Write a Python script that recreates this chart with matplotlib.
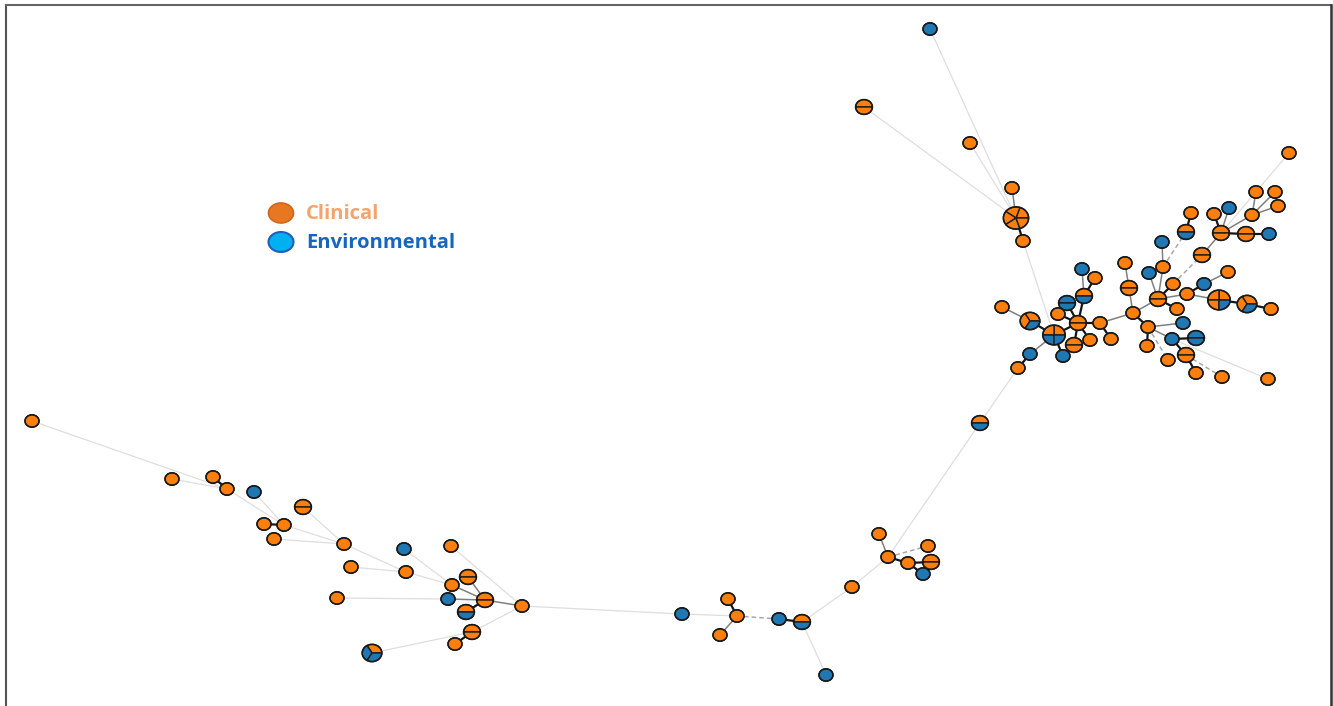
import numpy as np
import matplotlib.pyplot as plt
from matplotlib.patches import Polygon, Ellipse
from matplotlib.lines import Line2D

# node layout (pixel space), isolate counts per node
names = ["A1", "A2", "A3", "A4", "A5", "A6",
         "C1", "C2", "C3", "C4", "C5", "C6", "C7", "C8", "C9", "C10",
         "C11", "C12", "C13", "C14", "C15", "C16", "C17", "C18", "C19",
         "E1", "E2", "E3", "E4", "E5", "E6", "E7", "E8", "E9", "E10",
         "E11", "E12", "E13", "E14", "E15", "E16", "E17", "E18", "E19", "E20",
         "E21", "E22", "E23", "E24", "E25", "E26", "E27", "E28", "E29", "E30",
         "E31", "E32", "E33", "E34", "E35",
         "D1", "F1", "F2", "F3", "F4", "F5", "F6", "F7",
         "G1", "G2", "G3", "G4", "G5", "G6", "G7", "H",
         "L1", "L2", "L3", "L4", "L5", "L6", "L7", "L8", "L9", "L10", "L11",
         "M1", "M2", "M3", "M4", "M5", "M6", "M7", "M8", "M9", "M10", "M11", "M12"]
xs = [930, 864, 970, 1012, 1016, 1023,
      1002, 1030, 1054, 1030, 1018, 1063, 1058, 1067, 1084, 1082,
      1095, 1078, 1074, 1090, 1100, 1111, 1125, 1129, 1133,
      1289, 1256, 1275, 1278, 1229, 1214, 1252, 1191, 1186, 1221,
      1246, 1269, 1162, 1202, 1163, 1149, 1228, 1173, 1204, 1158,
      1187, 1219, 1247, 1271, 1177, 1148, 1183, 1172, 1196, 1147,
      1186, 1168, 1196, 1222, 1268,
      980, 879, 888, 908, 928, 931, 923, 852,
      682, 728, 737, 720, 779, 802, 826, 522,
      32, 172, 213, 227, 254, 303, 264, 284, 274, 344, 351,
      404, 451, 406, 468, 452, 337, 448, 485, 466, 472, 455, 372]
ys = [29, 107, 143, 188, 218, 241,
      307, 321, 335, 354, 368, 356, 314, 303, 296, 269,
      278, 323, 345, 340, 323, 339, 263, 288, 313,
      153, 192, 192, 206, 208, 214, 215, 213, 232, 233,
      234, 234, 242, 255, 267, 273, 272, 284, 284, 299,
      294, 300, 304, 309, 309, 327, 323, 339, 338, 346,
      355, 360, 373, 377, 379,
      423, 534, 557, 563, 546, 562, 574, 587,
      614, 599, 616, 635, 619, 622, 675, 606,
      421, 479, 477, 489, 492, 507, 524, 525, 539, 544, 567,
      549, 546, 572, 577, 585, 598, 599, 600, 612, 632, 644, 653]
clinical = [0, 2, 1, 1, 5, 1,
            1, 2, 2, 0, 1, 0, 1, 0, 1, 0,
            1, 2, 2, 1, 1, 1, 1, 2, 1,
            1, 1, 1, 1, 0, 1, 1, 1, 1, 2,
            2, 0, 0, 2, 1, 0, 1, 1, 0, 2,
            1, 3, 2, 1, 1, 1, 0, 0, 0, 1,
            2, 1, 1, 1, 1,
            1, 1, 1, 1, 1, 2, 0, 1,
            0, 1, 1, 1, 0, 1, 0, 1,
            1, 1, 1, 1, 0, 2, 1, 1, 1, 1, 1,
            0, 1, 1, 2, 1, 1, 0, 2, 1, 2, 1, 1]
environmental = [1, 0, 0, 0, 0, 0,
                 0, 1, 2, 1, 0, 1, 0, 2, 1, 1,
                 0, 0, 0, 0, 0, 0, 0, 0, 0,
                 0, 0, 0, 0, 1, 0, 0, 0, 1, 0,
                 0, 1, 1, 0, 0, 1, 0, 0, 1, 0,
                 0, 1, 1, 0, 0, 0, 1, 1, 2, 0,
                 0, 0, 0, 0, 0,
                 1, 0, 0, 0, 0, 0, 1, 0,
                 1, 0, 0, 0, 1, 1, 1, 0,
                 0, 0, 0, 0, 1, 0, 0, 0, 0, 0, 0,
                 1, 0, 0, 0, 0, 0, 1, 0, 1, 0, 0, 2]

# links: k = close (thick), g = medium, l = long (faint), d = dashed
links = [("A5", "A1", "l"), ("A5", "A2", "l"), ("A5", "A3", "l"), ("A4", "A5", "g"),
         ("A5", "A6", "k"), ("A6", "C3", "l"),
         ("C1", "C2", "g"), ("C2", "C3", "k"), ("C3", "C4", "g"), ("C4", "C5", "k"),
         ("C3", "C6", "k"), ("C3", "C12", "k"), ("C7", "C12", "k"), ("C8", "C12", "k"),
         ("C9", "C12", "k"), ("C9", "C10", "g"), ("C9", "C11", "k"), ("C12", "C13", "k"),
         ("C12", "C14", "k"), ("C12", "C15", "k"), ("C15", "C16", "k"), ("C15", "C19", "g"),
         ("C18", "C19", "g"), ("C17", "C18", "g"), ("C5", "D1", "l"),
         ("C19", "E20", "g"), ("E20", "E15", "g"), ("E15", "E13", "g"), ("E20", "E16", "g"),
         ("E20", "E18", "k"), ("E15", "E9", "d"), ("E9", "E8", "k"), ("E20", "E21", "g"),
         ("E21", "E19", "k"), ("E19", "E17", "g"), ("E21", "E22", "g"), ("E22", "E23", "k"),
         ("E23", "E24", "k"), ("E20", "E25", "k"), ("C19", "E26", "k"), ("E26", "E27", "g"),
         ("E26", "E30", "k"), ("E26", "E28", "g"), ("E28", "E29", "k"), ("E28", "E31", "k"),
         ("E31", "E33", "k"), ("E26", "E32", "d"), ("E31", "E34", "d"), ("E28", "E35", "l"),
         ("E18", "E14", "d"), ("E14", "E10", "g"), ("E10", "E6", "k"), ("E10", "E5", "g"),
         ("E10", "E7", "g"), ("E7", "E2", "g"), ("E7", "E3", "g"), ("E7", "E4", "g"),
         ("E10", "E11", "k"), ("E11", "E12", "k"), ("E10", "E1", "l"),
         ("D1", "F2", "l"), ("F1", "F2", "g"), ("F2", "F3", "k"), ("F2", "F4", "d"),
         ("F3", "F5", "k"), ("F3", "F6", "k"), ("F2", "F7", "l"), ("F7", "G6", "l"),
         ("G6", "G5", "k"), ("G6", "G7", "l"), ("G5", "G3", "d"), ("G3", "G2", "k"),
         ("G3", "G4", "g"), ("G3", "G1", "l"), ("G1", "H", "l"),
         ("H", "M8", "g"), ("H", "M2", "l"), ("H", "M10", "l"), ("M10", "M11", "k"),
         ("M10", "M12", "l"), ("M8", "M9", "k"), ("M8", "M7", "g"), ("M8", "M4", "g"),
         ("M8", "M5", "g"), ("M7", "M6", "l"), ("M5", "M3", "l"), ("M5", "M1", "l"),
         ("M3", "L10", "l"), ("M3", "L11", "l"), ("L10", "L8", "l"), ("L10", "L9", "l"),
         ("L10", "L6", "l"), ("L8", "L7", "k"), ("L8", "L4", "l"), ("L8", "L5", "l"),
         ("L4", "L3", "k"), ("L4", "L2", "l"), ("L4", "L1", "l")]

ORANGE = "#ff7f0e"
BLUE = "#1f77b4"
edge_style = {"k": dict(color="#151515", lw=1.6, ls="-"),
              "g": dict(color="#808080", lw=1.1, ls="-"),
              "l": dict(color="#dedede", lw=0.9, ls="-"),
              "d": dict(color="#a8a8a8", lw=1.1, ls=(0, (3, 2)))}

fig = plt.figure(figsize=(13.33, 7.06), dpi=100)
ax = fig.add_axes([0, 0, 1, 1])
ax.set_xlim(0, 1333)
ax.set_ylim(706, 0)
ax.axis("off")

pos = {n: (x, y) for n, x, y in zip(names, xs, ys)}
for a, b, kind in links:
    (x1, y1), (x2, y2) = pos[a], pos[b]
    ax.plot([x1, x2], [y1, y2], zorder=1, solid_capstyle="butt", **edge_style[kind])


def pie_node(cx, cy, n_c, n_e):
    n = n_c + n_e
    rx = (14 + 2.8 * (n - 1)) / 2
    ry = rx * 0.88
    cols = [ORANGE] * n_c + [BLUE] * n_e
    step = 2 * np.pi / n
    for i, c in enumerate(cols):
        t = np.linspace(i * step, (i + 1) * step, 40)
        px = cx + rx * np.cos(t)
        py = cy - ry * np.sin(t)
        if n > 1:
            px = np.r_[cx, px]
            py = np.r_[cy, py]
        ax.add_patch(Polygon(np.c_[px, py], closed=True, facecolor=c,
                             edgecolor="#1a1a1a", lw=1.0, zorder=3))
    ax.add_patch(Ellipse((cx, cy), 2 * rx, 2 * ry, facecolor="none",
                         edgecolor="#1a1a1a", lw=1.1, zorder=4))


for n, x, y, c, e in zip(names, xs, ys, clinical, environmental):
    pie_node(x, y, c, e)

# legend
ax.add_patch(Ellipse((281, 213), 25, 20, facecolor="#e87722", edgecolor="#d0661a",
                     lw=1.2, zorder=5))
ax.add_patch(Ellipse((281, 242), 25, 20, facecolor="#00b0f0", edgecolor="#1f5fbf",
                     lw=1.5, zorder=5))
ax.text(306, 214, "Clinical", color="#f4a46c", fontsize=14.5, fontweight="bold",
        family=["Open Sans", "DejaVu Sans"], va="center", ha="left")
ax.text(306, 243, "Environmental", color="#1566c0", fontsize=14.5, fontweight="bold",
        family=["Open Sans", "DejaVu Sans"], va="center", ha="left")

# frame
fig.add_artist(Line2D([6, 6], [0, 701], transform=None, color="#555555", lw=1.5))
fig.add_artist(Line2D([6, 1331], [701, 701], transform=None, color="#666666", lw=1.5))
fig.add_artist(Line2D([1331, 1331], [0, 701], transform=None, color="#333333", lw=1.8))

fig.savefig("out.png", dpi=100)
